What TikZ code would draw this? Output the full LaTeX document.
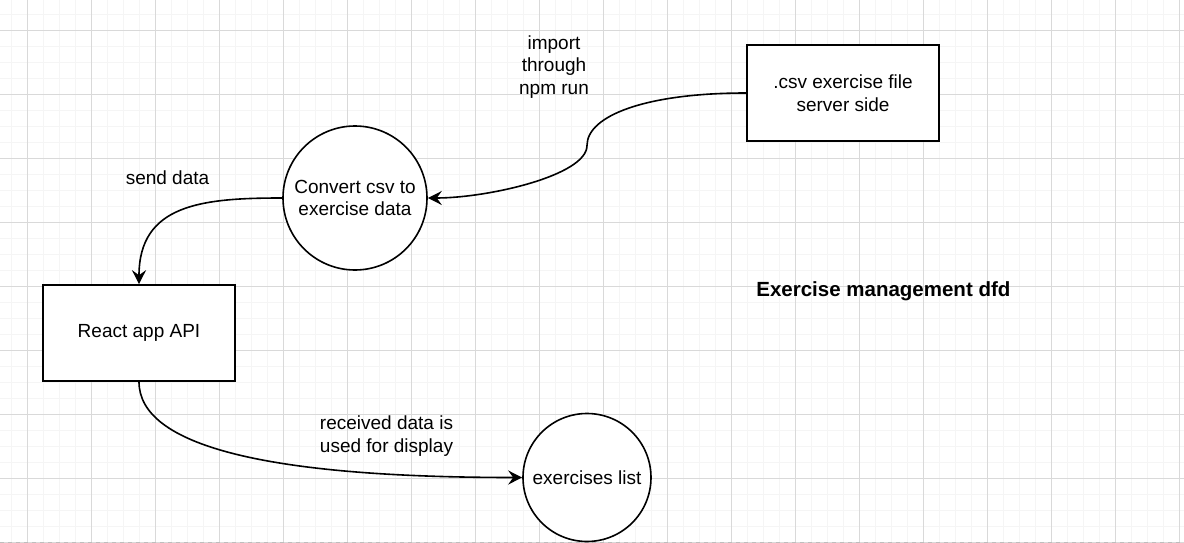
\documentclass[tikz,border=0pt]{standalone}
\usepackage{fontspec}
\setmainfont{Liberation Sans}
\usetikzlibrary{arrows.meta}
\definecolor{gridminor}{HTML}{F5F5F5}
\definecolor{gridmajor}{HTML}{D9D9D9}
\definecolor{pageedge}{HTML}{BDBDBD}
\begin{document}
\begin{tikzpicture}[x=1pt,y=-1pt,
  box/.style={draw=black, line width=1.6pt, fill=white, rectangle, minimum width=192pt, minimum height=96pt, align=center},
  proc/.style={draw=black, line width=1.6pt, fill=white, circle, inner sep=0pt, align=center},
  lbl/.style={align=center},
  flow/.style={line width=1.6pt, -{Stealth[length=14pt,width=14pt,inset=5pt]}},
  minorline/.style={draw=gridminor, line width=1pt},
  majorline/.style={draw=gridmajor, line width=1pt},
  font=\fontsize{19}{22.5}\selectfont]
\useasboundingbox (0,0) rectangle (1184,543);
\fill[white] (0,0) rectangle (1184,543);
% grid
\foreach \x in {11.5,27.5,...,1184} \draw[minorline] (\x,0) -- (\x,543);
\foreach \y in {14.5,30.5,...,543} \draw[minorline] (0,\y) -- (1184,\y);
\foreach \x in {27.5,91.5,...,1184} \draw[majorline] (\x,0) -- (\x,543);
\foreach \y in {30.5,94.5,...,543} \draw[majorline] (0,\y) -- (1184,\y);
\draw[pageedge, line width=1pt, dash pattern=on 4pt off 4pt] (0,542) -- (1184,542);

% nodes
\node[box] (csv) at (843,93) {.csv exercise file\\server side};
\node[proc, minimum size=144pt] (conv) at (355,198) {Convert csv to\\exercise data};
\node[box] (react) at (139,333) {React app API};
\node[proc, minimum size=128pt] (list) at (587,477.5) {exercises list};

% labels
\node[lbl] (limport) at (554,67) {import\\through\\npm run};
\node[lbl] (lsend) at (167.5,177.5) {send data};
\node[lbl] (lrecv) at (386.5,436) {received data is\\used for display};
\node[font=\bfseries\fontsize{20.5}{24}\selectfont] (title) at (883.4,291.7) {Exercise management dfd};

% connectors
\coordinate (bend) at (587,145.5);
\draw[flow] (csv.west) .. controls +(-100,0) and +(0,-30) .. (bend) .. controls +(0,30) and +(60,0) .. (conv.east);
\draw[flow] (conv.west) .. controls +(-80,0) and +(0,-80) .. (react.north);
\draw[flow] (react.south) .. controls +(0,64) and +(-256,0) .. (list.west);
\end{tikzpicture}
\end{document}
